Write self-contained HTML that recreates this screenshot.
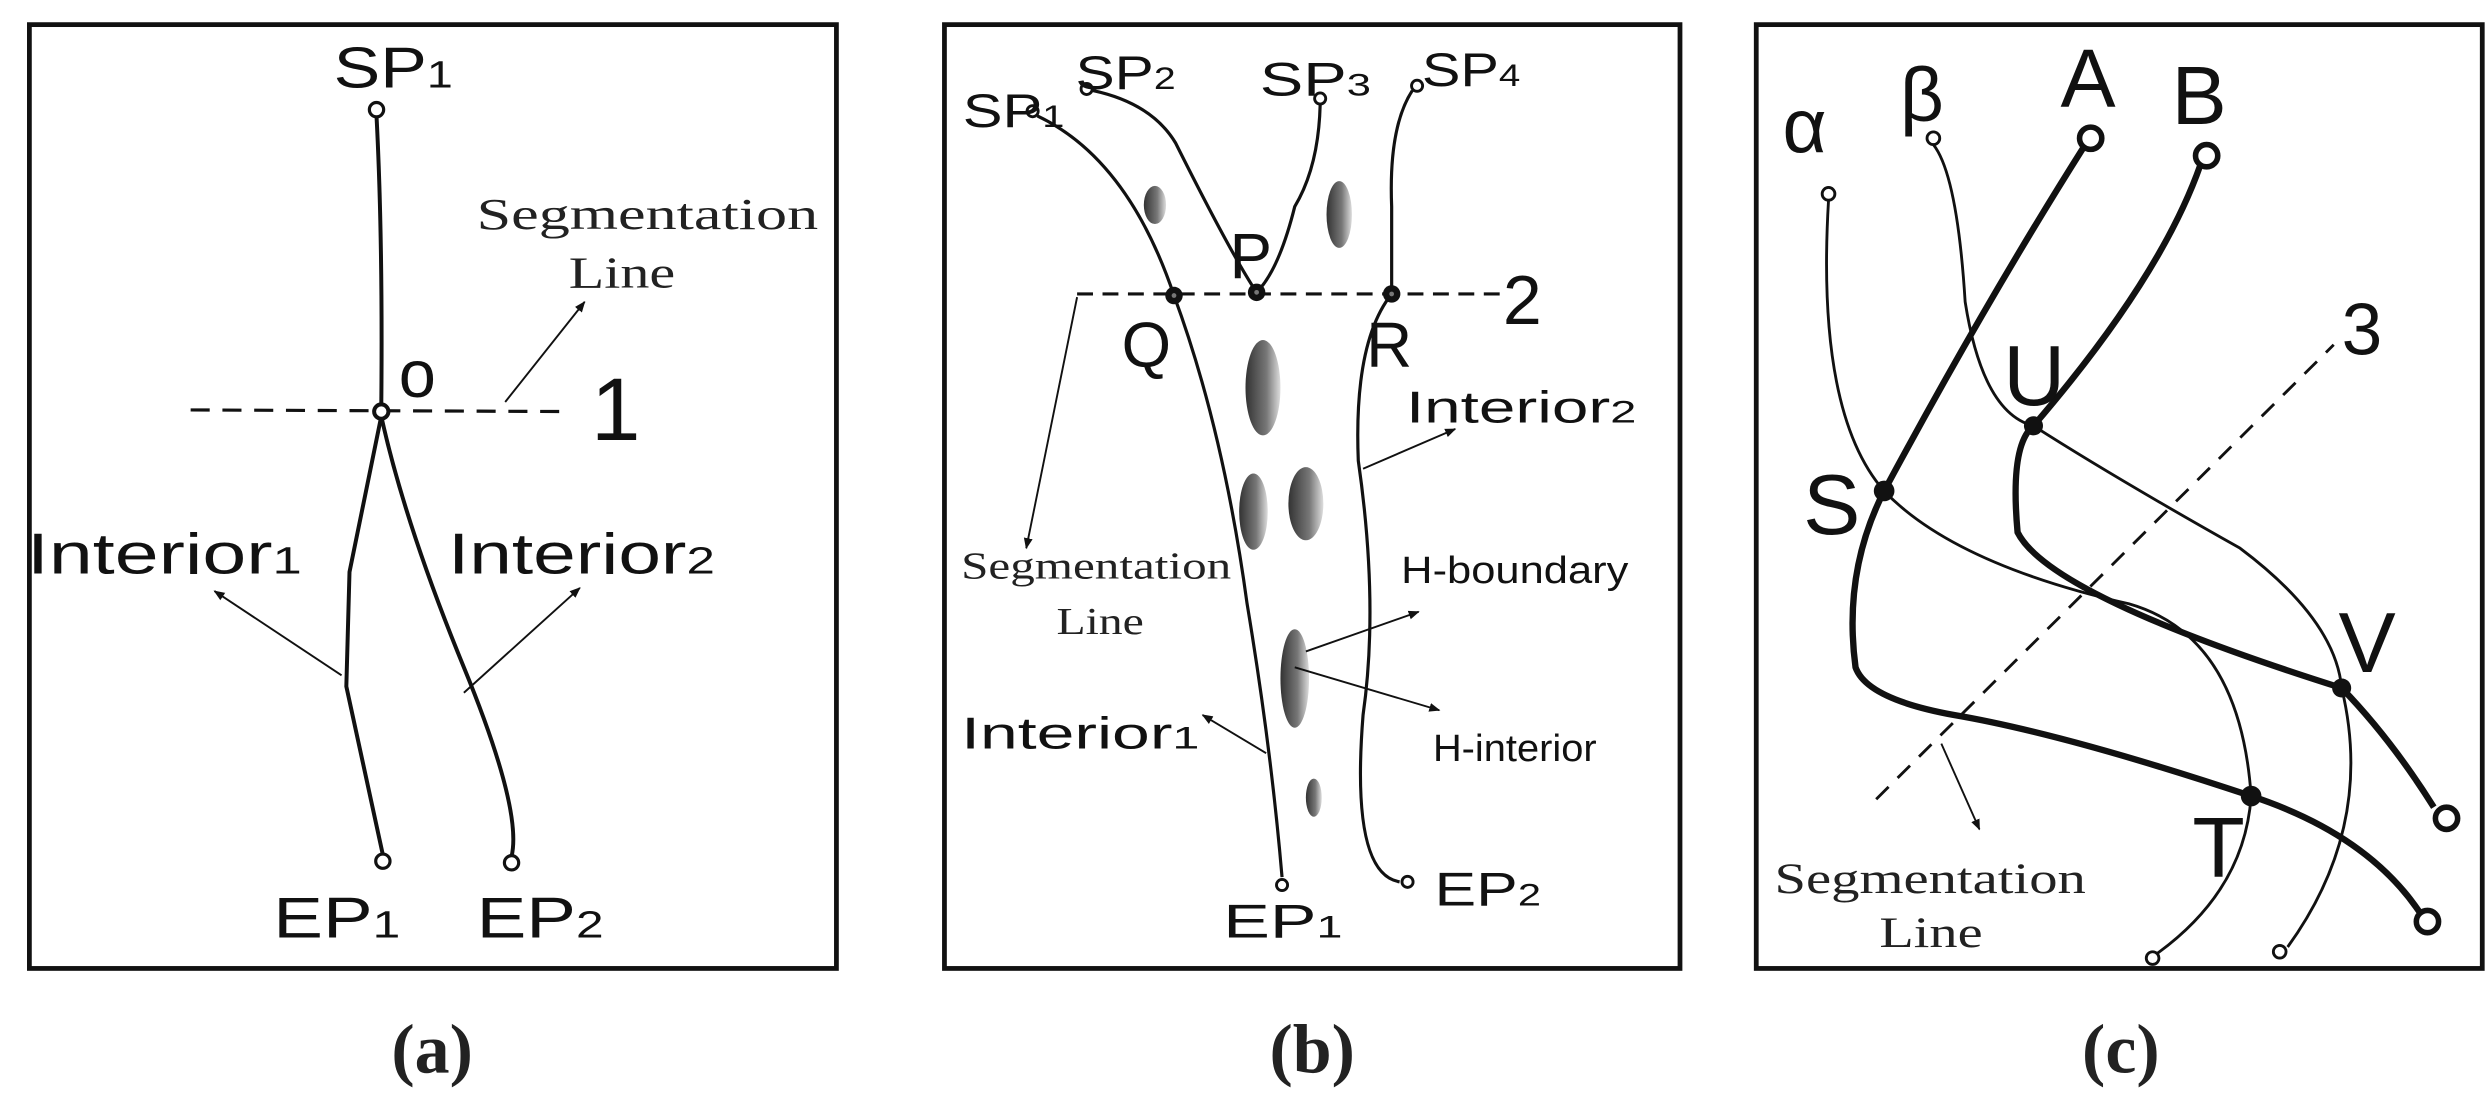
<!DOCTYPE html>
<html><head><meta charset="utf-8"><style>
html,body{margin:0;padding:0;background:#fff;}
svg{display:block;}
.s{font-family:"Liberation Sans",sans-serif;fill:#111;}
.r{font-family:"Liberation Serif",serif;fill:#222;}
</style></head><body>
<svg width="2491" height="1117" viewBox="0 0 1568 703" preserveAspectRatio="none" xmlns="http://www.w3.org/2000/svg">
<defs>
<marker id="ar" viewBox="0 0 10 10" refX="9" refY="5" markerWidth="7" markerHeight="7" orient="auto-start-reverse" markerUnits="userSpaceOnUse"><path d="M0,1 L10,5 L0,9 z" fill="#111"/></marker>
<linearGradient id="g" x1="0" x2="1" y1="0" y2="0"><stop offset="0" stop-color="#333"/><stop offset="0.6" stop-color="#777"/><stop offset="1" stop-color="#ddd"/></linearGradient>
</defs>
<g fill="none" stroke="#111">
<rect x="18.5" y="15.5" width="508" height="594" stroke-width="3"/>
<rect x="594.5" y="15.5" width="463" height="594" stroke-width="3"/>
<rect x="1105.5" y="15.5" width="457" height="594" stroke-width="3"/>
</g>
<!-- panel a -->
<g fill="none" stroke="#111">
<path d="M237,73 Q241,150 240,256" stroke-width="2.5"/>
<line x1="120" y1="258" x2="356" y2="259" stroke-width="2" stroke-dasharray="12,8"/>
<path d="M240,262 L220,360 L218,432 L241,538" stroke-width="2.5"/>
<path d="M240,262 Q255,330 292,420 T322,539" stroke-width="2.5"/>
<line x1="318" y1="253" x2="368" y2="190" stroke-width="1.2" marker-end="url(#ar)"/>
<line x1="215" y1="425" x2="135" y2="372" stroke-width="1.2" marker-end="url(#ar)"/>
<line x1="292" y1="436" x2="365" y2="370" stroke-width="1.2" marker-end="url(#ar)"/>
<circle cx="237" cy="69" r="4.5" stroke-width="2" fill="#fff"/>
<circle cx="240" cy="259" r="4.5" stroke-width="2.5" fill="#fff"/>
<circle cx="241" cy="542" r="4.5" stroke-width="2" fill="#fff"/>
<circle cx="322" cy="543" r="4.5" stroke-width="2" fill="#fff"/>
</g>
<text x="210" y="55" class="s" font-size="36" textLength="75" lengthAdjust="spacingAndGlyphs">SP<tspan font-size="24">1</tspan></text>
<text x="251" y="250" class="s" font-size="42">o</text>
<text x="372" y="277" class="s" font-size="56">1</text>
<text x="300" y="144" class="r" font-size="28" textLength="215" lengthAdjust="spacingAndGlyphs">Segmentation</text>
<text x="358" y="181" class="r" font-size="28" textLength="67" lengthAdjust="spacingAndGlyphs">Line</text>
<text x="17" y="361" class="s" font-size="36" textLength="173" lengthAdjust="spacingAndGlyphs">Interior<tspan font-size="24">1</tspan></text>
<text x="282" y="361" class="s" font-size="36" textLength="168" lengthAdjust="spacingAndGlyphs">Interior<tspan font-size="24">2</tspan></text>
<text x="172" y="590" class="s" font-size="36" textLength="80" lengthAdjust="spacingAndGlyphs">EP<tspan font-size="24">1</tspan></text>
<text x="300" y="590" class="s" font-size="36" textLength="80" lengthAdjust="spacingAndGlyphs">EP<tspan font-size="24">2</tspan></text>
<text x="272" y="675" class="r" font-size="44" font-weight="bold" text-anchor="middle">(a)</text>
<!-- panel b -->
<g fill="url(#g)">
<ellipse cx="727" cy="129" rx="7" ry="12"/>
<ellipse cx="843" cy="135" rx="8" ry="21"/>
<ellipse cx="795" cy="244" rx="11" ry="30"/>
<ellipse cx="789" cy="322" rx="9" ry="24"/>
<ellipse cx="822" cy="317" rx="11" ry="23"/>
<ellipse cx="815" cy="427" rx="9" ry="31"/>
<ellipse cx="827" cy="502" rx="5" ry="12"/>
</g>
<g fill="none" stroke="#111">
<line x1="678" y1="185" x2="945" y2="185" stroke-width="2" stroke-dasharray="10,6"/>
<path d="M653,73 Q710,100 739,186 Q770,270 785,380 Q800,470 807,552" stroke-width="2"/>
<path d="M688,57 Q725,65 740,90 Q775,160 791,184 Q805,170 815,130 Q830,105 831,66" stroke-width="2"/>
<path d="M889,57 Q874,80 876,130 L876,185 Q852,215 855,290 Q868,380 858,450 Q850,550 881,555" stroke-width="2"/>
<line x1="678" y1="187" x2="646" y2="345" stroke-width="1.2" marker-end="url(#ar)"/>
<line x1="858" y1="295" x2="916" y2="270" stroke-width="1.2" marker-end="url(#ar)"/>
<line x1="822" y1="410" x2="893" y2="385" stroke-width="1.2" marker-end="url(#ar)"/>
<line x1="815" y1="420" x2="906" y2="447" stroke-width="1.2" marker-end="url(#ar)"/>
<line x1="797" y1="474" x2="757" y2="450" stroke-width="1.2" marker-end="url(#ar)"/>
<circle cx="650" cy="70" r="3.5" stroke-width="1.8" fill="#fff"/>
<circle cx="684" cy="56" r="3.5" stroke-width="1.8" fill="#fff"/>
<circle cx="831" cy="62" r="3.5" stroke-width="1.8" fill="#fff"/>
<circle cx="892" cy="54" r="3.5" stroke-width="1.8" fill="#fff"/>
<circle cx="807" cy="557" r="3.5" stroke-width="1.8" fill="#fff"/>
<circle cx="886" cy="555" r="3.5" stroke-width="1.8" fill="#fff"/>
</g>
<g fill="#111"><circle cx="739" cy="186" r="5.5"/><circle cx="791" cy="184" r="5.5"/><circle cx="876" cy="185" r="5.5"/></g>
<g fill="#777"><circle cx="739" cy="186" r="1.5"/><circle cx="791" cy="184" r="1.5"/><circle cx="876" cy="185" r="1.5"/></g>
<text x="606" y="80" class="s" font-size="30" textLength="64" lengthAdjust="spacingAndGlyphs">SP<tspan font-size="20">1</tspan></text>
<text x="677" y="56" class="s" font-size="30" textLength="63" lengthAdjust="spacingAndGlyphs">SP<tspan font-size="20">2</tspan></text>
<text x="793" y="60" class="s" font-size="30" textLength="70" lengthAdjust="spacingAndGlyphs">SP<tspan font-size="20">3</tspan></text>
<text x="895" y="54" class="s" font-size="30" textLength="62" lengthAdjust="spacingAndGlyphs">SP<tspan font-size="20">4</tspan></text>
<text x="774" y="175" class="s" font-size="40">P</text>
<text x="706" y="231" class="s" font-size="40">Q</text>
<text x="860" y="231" class="s" font-size="40">R</text>
<text x="946" y="204" class="s" font-size="44">2</text>
<text x="605" y="364" class="r" font-size="24" textLength="170" lengthAdjust="spacingAndGlyphs">Segmentation</text>
<text x="665" y="399" class="r" font-size="24" textLength="55" lengthAdjust="spacingAndGlyphs">Line</text>
<text x="885" y="266" class="s" font-size="28" textLength="145" lengthAdjust="spacingAndGlyphs">Interior<tspan font-size="20">2</tspan></text>
<text x="882" y="367" class="s" font-size="24" textLength="143" lengthAdjust="spacingAndGlyphs">H-boundary</text>
<text x="902" y="479" class="s" font-size="24" textLength="103" lengthAdjust="spacingAndGlyphs">H-interior</text>
<text x="605" y="471" class="s" font-size="28" textLength="150" lengthAdjust="spacingAndGlyphs">Interior<tspan font-size="20">1</tspan></text>
<text x="770" y="590" class="s" font-size="30" textLength="75" lengthAdjust="spacingAndGlyphs">EP<tspan font-size="20">1</tspan></text>
<text x="903" y="570" class="s" font-size="30" textLength="67" lengthAdjust="spacingAndGlyphs">EP<tspan font-size="20">2</tspan></text>
<text x="826" y="675" class="r" font-size="44" font-weight="bold" text-anchor="middle">(b)</text>
<!-- panel c -->
<g fill="none" stroke="#111">
<path d="M1181,503 L1469,217" stroke-width="1.8" stroke-dasharray="11,8"/>
<path d="M1151,126 Q1143,260 1186,309 Q1230,355 1340,380 Q1410,400 1417,501 Q1413,560 1358,600" stroke-width="1.8"/>
<path d="M1217,91 Q1232,110 1237,190 Q1248,260 1280,268 Q1330,300 1410,345 Q1470,390 1474,433 Q1495,520 1440,596" stroke-width="1.8"/>
<path d="M1312,92 Q1250,190 1186,309 Q1160,360 1168,420 Q1175,440 1230,450 Q1300,462 1417,501 Q1490,525 1523,574" stroke-width="4"/>
<path d="M1385,104 Q1360,175 1280,268 Q1265,280 1270,335 Q1290,375 1474,433 Q1505,465 1532,508" stroke-width="4"/>
<line x1="1222" y1="468" x2="1246" y2="522" stroke-width="1.2" marker-end="url(#ar)"/>
<circle cx="1151" cy="122" r="4" stroke-width="1.8" fill="#fff"/>
<circle cx="1217" cy="87" r="4" stroke-width="1.8" fill="#fff"/>
<circle cx="1316" cy="87" r="7" stroke-width="3.5" fill="#fff"/>
<circle cx="1389" cy="98" r="7" stroke-width="3.5" fill="#fff"/>
<circle cx="1540" cy="515" r="7" stroke-width="3.5" fill="#fff"/>
<circle cx="1528" cy="580" r="7" stroke-width="3.5" fill="#fff"/>
<circle cx="1355" cy="603" r="4" stroke-width="1.8" fill="#fff"/>
<circle cx="1435" cy="599" r="4" stroke-width="1.8" fill="#fff"/>
</g>
<g fill="#111"><circle cx="1186" cy="309" r="6.5"/><circle cx="1280" cy="268" r="6"/><circle cx="1474" cy="433" r="6"/><circle cx="1417" cy="501" r="6.5"/></g>
<text x="1122" y="96" class="s" font-size="48">α</text>
<text x="1196" y="76" class="s" font-size="48">β</text>
<text x="1297" y="67" class="s" font-size="52">A</text>
<text x="1367" y="78" class="s" font-size="52">B</text>
<text x="1474" y="223" class="s" font-size="46">3</text>
<text x="1261" y="255" class="s" font-size="54">U</text>
<text x="1135" y="336" class="s" font-size="54">S</text>
<text x="1472" y="423" class="s" font-size="54">V</text>
<text x="1380" y="552" class="s" font-size="54">T</text>
<text x="1117" y="562" class="r" font-size="27" textLength="196" lengthAdjust="spacingAndGlyphs">Segmentation</text>
<text x="1183" y="596" class="r" font-size="27" textLength="65" lengthAdjust="spacingAndGlyphs">Line</text>
<text x="1335" y="675" class="r" font-size="44" font-weight="bold" text-anchor="middle">(c)</text>
</svg>
</body></html>
